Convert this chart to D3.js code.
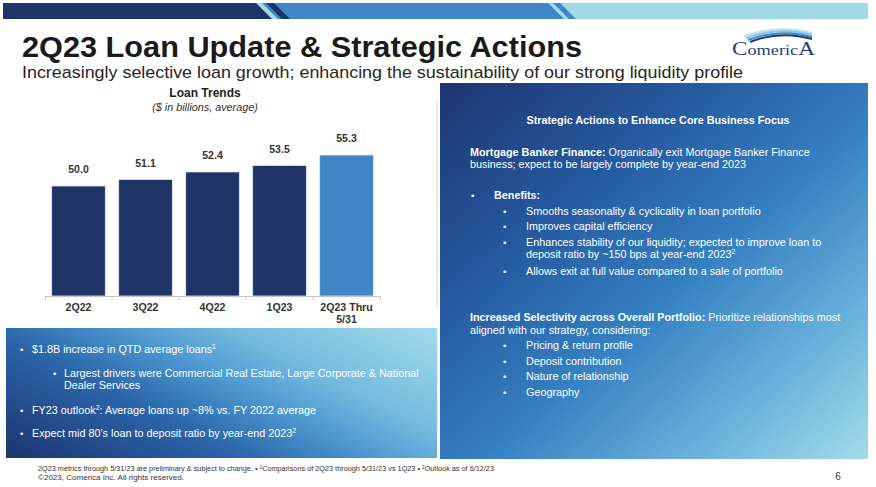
<!DOCTYPE html>
<html>
<head>
<meta charset="utf-8">
<script src="https://cdn.jsdelivr.net/npm/d3@7"></script>
<style>
  html, body { margin: 0; padding: 0; background: #ffffff; }
  svg { display: block; font-family: "Liberation Sans", Arial, sans-serif; }
</style>
</head>
<body>
<svg id="chart" width="876" height="487"></svg>
<script>
// ---------- data ----------
const categories = ["2Q22", "3Q22", "4Q22", "1Q23", "2Q23 Thru\n5/31"];
const loanValues = [50.0, 51.1, 52.4, 53.5, 55.3];
const valueLabels = ["50.0", "51.1", "52.4", "53.5", "55.3"];
const highlightCategory = "2Q23 Thru\n5/31";

const titleText = "2Q23 Loan Update & Strategic Actions";
const subtitleText = "Increasingly selective loan growth; enhancing the sustainability of our strong liquidity profile";
const chartTitle = "Loan Trends";
const chartSubtitle = "($ in billions, average)";

const benefitItems = [
  ["Smooths seasonality & cyclicality in loan portfolio"],
  ["Improves capital efficiency"],
  ["Enhances stability of our liquidity; expected to improve loan to", "deposit ratio by ~150 bps at year-end 2023\u00B2"],
  ["Allows exit at full value compared to a sale of portfolio"]
];
const selectivityItems = ["Pricing & return profile", "Deposit contribution", "Nature of relationship", "Geography"];

const svg = d3.select("#chart");
const defs = svg.append("defs");
const FS = 10.8;

// ---------- gradients ----------
function grad(id, x1, y1, x2, y2, stops, user) {
  const g = defs.append("linearGradient").attr("id", id)
    .attr("x1", x1).attr("y1", y1).attr("x2", x2).attr("y2", y2);
  if (user) g.attr("gradientUnits", "userSpaceOnUse");
  stops.forEach(s => g.append("stop").attr("offset", s[0]).attr("stop-color", s[1]));
}
grad("gRight", 0, 0, 1, 1, [[0, "#1e3571"], [0.3, "#25599f"], [0.55, "#3580c2"], [0.8, "#6cb3dc"], [1, "#a3dcea"]]);
grad("gLeft", 6, 458, 149, 180, [[0, "#1d3470"], [0.35, "#2b66ab"], [0.55, "#4f9bd2"], [0.7, "#75badf"], [1, "#a2dcea"]], true);

// ---------- top banner ----------
const banner = svg.append("g");
banner.append("rect").attr("x", 3).attr("y", 3).attr("width", 865).attr("height", 16).attr("fill", "#a0d9e7");
banner.append("polygon").attr("points", "262,3 548,3 564,19 278,19").attr("fill", "#3f86c6");
banner.append("polygon").attr("points", "3,3 256,3 272,19 3,19").attr("fill", "#1e3366");
banner.append("polygon").attr("points", "266,3 274,3 290,19 282,19").attr("fill", "#1e3366");
banner.append("polygon").attr("points", "553,3 560,3 576,19 569,19").attr("fill", "#3f86c6");

// ---------- title ----------
svg.append("text").attr("x", 22).attr("y", 57)
  .attr("font-size", 29).attr("font-weight", "bold").attr("fill", "#1a1a1a")
  .attr("textLength", 560).attr("lengthAdjust", "spacingAndGlyphs")
  .text(titleText);
svg.append("text").attr("x", 22).attr("y", 78)
  .attr("font-size", 17).attr("fill", "#262626")
  .attr("textLength", 721).attr("lengthAdjust", "spacingAndGlyphs")
  .text(subtitleText);

// ---------- logo ----------
const logo = svg.append("g");
const swooshColors = ["#b9e2f0", "#7fc3e6", "#3f86c6", "#1e3d7a"];
swooshColors.forEach((c, i) => {
  logo.append("path")
    .attr("d", `M${744 + i * 2},${36 + i * 2} Q${780},${24 + i * 2} ${812},${33 + i * 2}`)
    .attr("fill", "none").attr("stroke", c).attr("stroke-width", 2);
});
const logoText = logo.append("text").attr("x", 732).attr("y", 55)
  .attr("font-family", "'Liberation Serif', 'DejaVu Serif', serif").attr("fill", "#1f3d7a")
  .attr("textLength", 83).attr("lengthAdjust", "spacingAndGlyphs");
logoText.append("tspan").attr("font-size", 19).text("C");
logoText.append("tspan").attr("font-size", 15).text("omeric");
logoText.append("tspan").attr("font-size", 19).text("A");

// ---------- bar chart ----------
const x = d3.scaleBand().domain(categories).range([45, 380]).paddingInner(0.2).paddingOuter(0.1);
const y = d3.scaleLinear().domain([31.2, 55.3]).range([296, 155]);

svg.append("line").attr("x1", 437).attr("x2", 437).attr("y1", 100).attr("y2", 308)
  .attr("stroke", "#d6d6d6").attr("stroke-width", 1);

svg.append("text").attr("x", 205).attr("y", 97).attr("text-anchor", "middle")
  .attr("font-size", 12).attr("font-weight", "bold").attr("fill", "#222").text(chartTitle);
svg.append("text").attr("x", 205).attr("y", 111).attr("text-anchor", "middle")
  .attr("font-size", 10.8).attr("font-style", "italic").attr("fill", "#333").text(chartSubtitle);

svg.append("g").selectAll("rect").data(categories).join("rect")
  .attr("x", d => x(d)).attr("width", x.bandwidth())
  .attr("y", (d, i) => y(loanValues[i])).attr("height", (d, i) => y.range()[0] - y(loanValues[i]))
  .attr("fill", d => d === highlightCategory ? "#3f86c6" : "#1f3366")
  .attr("stroke", "#dfe5ee").attr("stroke-width", 0.8);

svg.append("g").selectAll("text").data(categories).join("text")
  .attr("x", d => x(d) + x.bandwidth() / 2)
  .attr("y", (d, i) => y(loanValues[i]) - 13)
  .attr("text-anchor", "middle").attr("font-size", 10.5).attr("font-weight", "bold").attr("fill", "#333")
  .text((d, i) => valueLabels[i]);

const axis = svg.append("g").attr("transform", "translate(0,296)")
  .call(d3.axisBottom(x).tickSizeInner(0).tickSizeOuter(4).tickPadding(7));
axis.select(".domain").attr("stroke", "#c4c4c4");
axis.selectAll(".tick line").remove();
axis.selectAll(".tick text")
  .attr("font-size", 10.6).attr("font-weight", "bold").attr("fill", "#333")
  .attr("font-family", "'Liberation Sans', Arial, sans-serif")
  .each(function(d) {
    const t = d3.select(this);
    t.text(null);
    d.split("\n").forEach((line, i) => {
      t.append("tspan").attr("x", 0).attr("dy", i === 0 ? "0.71em" : "1.15em").text(line);
    });
  });
const gap = x.step() * x.paddingInner() / 2;
axis.selectAll(".bound").data(categories.slice(1)).join("line").attr("class", "bound")
  .attr("x1", d => x(d) - gap).attr("x2", d => x(d) - gap)
  .attr("y1", 0).attr("y2", 4).attr("stroke", "#c4c4c4");

// ---------- text helper ----------
function bulletLine(g, bx, tx, yy, parts, size) {
  if (bx !== null) g.append("text").attr("x", bx).attr("y", yy).attr("font-size", (size || FS) * 0.9).text("\u2022");
  const t = g.append("text").attr("x", tx).attr("y", yy).attr("font-size", size || FS);
  parts.forEach(p => {
    const ts = t.append("tspan").text(p.t);
    if (p.b) ts.attr("font-weight", "bold");
    if (p.sup) ts.attr("font-size", 7).attr("dy", -4);
    if (p.after) ts.attr("dy", 4);
  });
  return t;
}

// ---------- left bottom panel ----------
svg.append("rect").attr("x", 6).attr("y", 328).attr("width", 431).attr("height", 130).attr("fill", "url(#gLeft)");
const lp = svg.append("g").attr("fill", "#ffffff");
bulletLine(lp, 20, 32, 353, [{t: "$1.8B increase in QTD average loans"}, {t: "1", sup: true}]);
bulletLine(lp, 53, 64, 377, [{t: "Largest drivers were Commercial Real Estate, Large Corporate & National"}]);
bulletLine(lp, null, 64, 389, [{t: "Dealer Services"}]);
bulletLine(lp, 20, 32, 414, [{t: "FY23 outlook"}, {t: "2", sup: true}, {t: ":  Average loans up ~8% vs. FY 2022 average", after: true}]);
bulletLine(lp, 20, 32, 437, [{t: "Expect mid 80\u2019s loan to deposit ratio by year-end 2023"}, {t: "2", sup: true}]);

// ---------- right panel ----------
svg.append("rect").attr("x", 440).attr("y", 83).attr("width", 428).attr("height", 376).attr("fill", "url(#gRight)");
const rp = svg.append("g").attr("fill", "#ffffff");
rp.append("text").attr("x", 658).attr("y", 124).attr("text-anchor", "middle")
  .attr("font-size", FS).attr("font-weight", "bold").text("Strategic Actions to Enhance Core Business Focus");
bulletLine(rp, null, 470, 156, [{t: "Mortgage Banker Finance:", b: true}, {t: "  Organically exit Mortgage Banker Finance"}]);
bulletLine(rp, null, 470, 168, [{t: "business; expect to be largely complete by year-end 2023"}]);
bulletLine(rp, 471, 494, 199, [{t: "Benefits:", b: true}]);
const benefitY = [215, 230, 246, 275];
benefitItems.forEach((lines, i) => {
  lines.forEach((ln, j) => {
    const parts = [{t: ln.replace("\u00B2", "")}];
    if (ln.endsWith("\u00B2")) parts.push({t: "2", sup: true});
    bulletLine(rp, j === 0 ? 503 : null, 526, benefitY[i] + j * 12, parts);
  });
});
bulletLine(rp, null, 470, 321, [{t: "Increased Selectivity across Overall Portfolio:", b: true}, {t: " Prioritize relationships most"}]);
bulletLine(rp, null, 470, 334, [{t: "aligned with our strategy, considering:"}]);
const selY = [349, 365, 380, 396];
selectivityItems.forEach((s, i) => bulletLine(rp, 503, 526, selY[i], [{t: s}]));

// ---------- footer ----------
const ft = svg.append("text").attr("x", 38).attr("y", 471).attr("font-size", 7).attr("fill", "#333")
  .attr("textLength", 456).attr("lengthAdjust", "spacingAndGlyphs");
ft.append("tspan").text("2Q23 metrics through 5/31/23 are preliminary & subject to change. \u2022 ");
ft.append("tspan").attr("font-size", 4.5).attr("dy", -2.5).text("1");
ft.append("tspan").attr("dy", 2.5).text("Comparisons of 2Q23 through 5/31/23 vs 1Q23 \u2022 ");
ft.append("tspan").attr("font-size", 4.5).attr("dy", -2.5).text("2");
ft.append("tspan").attr("dy", 2.5).text("Outlook as of 6/12/23");
svg.append("text").attr("x", 38).attr("y", 480).attr("font-size", 7).attr("fill", "#333")
  .attr("textLength", 146).attr("lengthAdjust", "spacingAndGlyphs")
  .text("\u00A92023, Comerica Inc. All rights reserved.");
svg.append("text").attr("x", 838).attr("y", 480).attr("text-anchor", "middle")
  .attr("font-size", 10).attr("fill", "#333").text("6");
</script>
</body>
</html>
